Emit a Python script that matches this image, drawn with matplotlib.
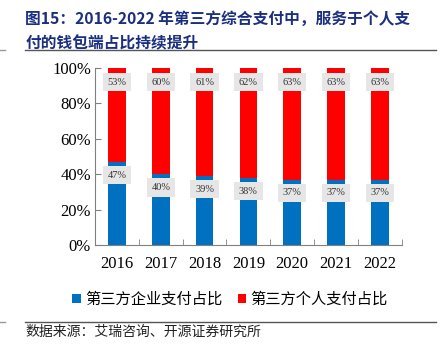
import matplotlib.pyplot as plt
import numpy as np

years = ["2016", "2017", "2018", "2019", "2020", "2021", "2022"]
corp_share = [47, 40, 39, 38, 37, 37, 37]
pers_share = [53, 60, 61, 62, 63, 63, 63]

cjk = ["Noto Sans CJK SC", "DejaVu Sans"]
serif = ["Liberation Serif", "DejaVu Serif"]

fig = plt.figure(figsize=(4.42, 3.47), dpi=100)
ax = fig.add_axes([0.215, 0.294, 0.694, 0.510])

x = np.arange(len(years))
ax.bar(x, corp_share, width=0.4, color="#0070C0", label="第三方企业支付占比")
ax.bar(x, pers_share, width=0.4, bottom=corp_share, color="#FF0000", label="第三方个人支付占比")

box = dict(boxstyle="square,pad=0.45", facecolor="#E6E6E6", edgecolor="none")
for i in range(len(years)):
    ax.text(x[i], corp_share[i] - 7.5, f"{corp_share[i]}%", ha="center", va="center",
            fontsize=7.5, family=serif, color="#333333", bbox=box)
    ax.text(x[i], 92, f"{pers_share[i]}%", ha="center", va="center",
            fontsize=7.5, family=serif, color="#333333", bbox=box)

ax.set_xlim(-0.5, len(years) - 0.5)
ax.set_ylim(0, 100)
ax.set_yticks(range(0, 101, 20))
ax.set_yticklabels([f"{v}%" for v in range(0, 101, 20)], family=serif, fontsize=12)
ax.set_xticks(x)
ax.set_xticklabels(years, family=serif, fontsize=12)
ax.set_xticks(np.arange(-0.5, len(years)), minor=True)
ax.tick_params(axis="x", which="major", length=0, pad=8)
ax.tick_params(axis="x", which="minor", length=4, color="#808080", direction="in")
ax.tick_params(axis="y", length=4, color="#808080", direction="in", pad=3)
for s in ["top", "right"]:
    ax.spines[s].set_visible(False)
for s in ["left", "bottom"]:
    ax.spines[s].set_color("#808080")

leg = ax.legend(loc="upper center", bbox_to_anchor=(0.44, -0.18), ncol=2, frameon=False,
                prop={"family": cjk, "size": 11}, handlelength=0.55, handleheight=0.55,
                handletextpad=0.3, columnspacing=1.0)

fig.text(0.057, 0.945, "图15：2016-2022 年第三方综合支付中，服务于个人支",
         family=cjk, fontsize=11.3, fontweight="bold", color="#1B2F80", va="center")
fig.text(0.057, 0.875, "付的钱包端占比持续提升",
         family=cjk, fontsize=11.3, fontweight="bold", color="#1B2F80", va="center")
fig.add_artist(plt.Line2D([0.057, 0.986], [0.855, 0.855], color="#555555", lw=1))
fig.add_artist(plt.Line2D([0.0, 0.012], [0.855, 0.855], color="#999999", lw=1))
fig.add_artist(plt.Line2D([0.057, 0.986], [0.072, 0.072], color="#555555", lw=1))
fig.add_artist(plt.Line2D([0.0, 0.012], [0.072, 0.072], color="#999999", lw=1))
fig.text(0.057, 0.045, "数据来源：艾瑞咨询、开源证券研究所", family=cjk, fontsize=10,
         color="#222222", va="center")

fig.savefig("out.png", dpi=100)
